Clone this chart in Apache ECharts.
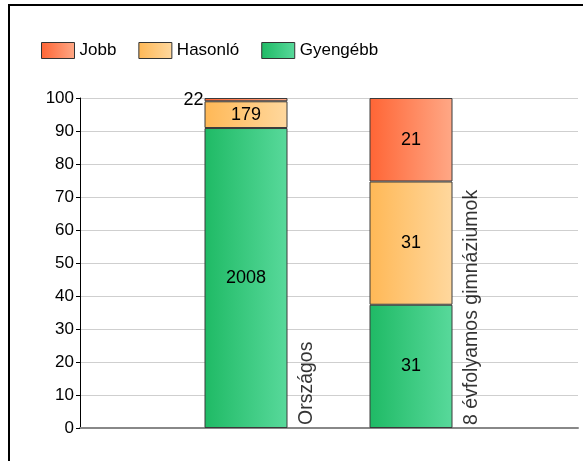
<!DOCTYPE html>
<html>
<head>
<meta charset="utf-8">
<script src="https://cdn.jsdelivr.net/npm/echarts@6/dist/echarts.min.js"></script>
<style>
  html, body { margin: 0; padding: 0; background: #fff; }
  .wrap { position: relative; width: 583px; height: 461px; }
  #chart { width: 583px; height: 461px; }
  .frame { position: absolute; left: 8px; top: 4px; right: -4px; bottom: -4px;
    border-left: 2px solid #000; border-top: 2px solid #000; pointer-events: none; }
</style>
</head>
<body>
<div class="wrap">
  <div id="chart"></div>
  <div class="frame"></div>
</div>
<script>
// categories and counts
const categories = ['Országos', '8 évfolyamos gimnáziumok']
const seriesNames = ['Jobb', 'Hasonló', 'Gyengébb']
const jobb = [22, 21]
const hasonlo = [179, 31]
const gyengebb = [2008, 31]
const yTicks = [0, 10, 20, 30, 40, 50, 60, 70, 80, 90, 100]

const font = "'Liberation Sans', Arial, sans-serif"
const colors = {
  Jobb: ['#FF6535', '#FFA886'],
  'Hasonló': ['#FFB856', '#FFD89E'],
  'Gyengébb': ['#1FBA65', '#58D99B']
}

const totals = categories.map((c, i) => jobb[i] + hasonlo[i] + gyengebb[i])

function grad (name) {
  return new echarts.graphic.LinearGradient(0, 0, 1, 0, [
    { offset: 0, color: colors[name][0] },
    { offset: 1, color: colors[name][1] }
  ])
}

function barSeries (name, counts) {
  return {
    name: name,
    type: 'bar',
    stack: 'all',
    xAxisIndex: 1,
    yAxisIndex: 1,
    barWidth: 83,
    itemStyle: { color: grad(name), borderColor: '#3a3a3a', borderWidth: 1 },
    label: {
      show: true,
      position: 'inside',
      color: '#000',
      fontFamily: font,
      fontSize: 18,
      formatter: p => counts[p.dataIndex]
    },
    data: counts.map((v, i) => {
      const item = { value: v / totals[i] * 100 }
      // tiny segment: label sits outside to the left
      if (v / totals[i] < 0.03) {
        item.label = { position: 'left', distance: 1 }
      }
      return item
    })
  }
}

const yRange = { min: yTicks[0], max: yTicks[yTicks.length - 1], interval: 10 }

const chart = echarts.init(document.getElementById('chart'))
chart.setOption({
  animation: false,
  textStyle: { fontFamily: font },
  legend: {
    left: 36,
    top: 37,
    itemWidth: 33,
    itemHeight: 16,
    itemGap: 22,
    icon: 'rect',
    itemStyle: { borderColor: '#333', borderWidth: 1 },
    textStyle: { fontSize: 17, color: '#000', fontFamily: font },
    data: seriesNames
  },
  grid: [
    // frame grid: axes and gridlines
    { left: 80, right: 5, top: 98, bottom: 33 },
    // bar grid: two categories centred on the bars
    { left: 163.5, right: 89.5, top: 98, bottom: 33 }
  ],
  xAxis: [
    {
      type: 'category',
      gridIndex: 0,
      data: [''],
      axisLine: { lineStyle: { color: '#888', width: 2 } },
      axisTick: { show: false },
      axisLabel: { show: false }
    },
    {
      type: 'category',
      gridIndex: 1,
      data: categories,
      axisLine: { show: false },
      axisTick: { show: false },
      axisLabel: { show: false }
    }
  ],
  yAxis: [
    {
      type: 'value',
      gridIndex: 0,
      ...yRange,
      axisLine: { show: true, lineStyle: { color: '#000', width: 1 } },
      axisTick: { show: true, length: 4, lineStyle: { color: '#000' } },
      axisLabel: { color: '#000', fontSize: 17, fontFamily: font, margin: 6 },
      splitLine: { lineStyle: { color: '#cfcfcf', width: 1 } }
    },
    {
      type: 'value',
      gridIndex: 1,
      ...yRange,
      show: false
    }
  ],
  series: [
    barSeries('Gyengébb', gyengebb),
    barSeries('Hasonló', hasonlo),
    barSeries('Jobb', jobb),
    {
      name: 'labels',
      type: 'scatter',
      xAxisIndex: 1,
      yAxisIndex: 1,
      symbolSize: 0,
      silent: true,
      z: 5,
      label: {
        show: true,
        position: [0, 0],
        // offset is in the rotated frame: [along text, across text]
        offset: [3, 61],
        rotate: 90,
        align: 'left',
        verticalAlign: 'middle',
        color: '#000',
        fontFamily: font,
        fontSize: 19.5,
        formatter: p => categories[p.dataIndex]
      },
      data: categories.map(() => 0)
    }
  ]
})
</script>
</body>
</html>
